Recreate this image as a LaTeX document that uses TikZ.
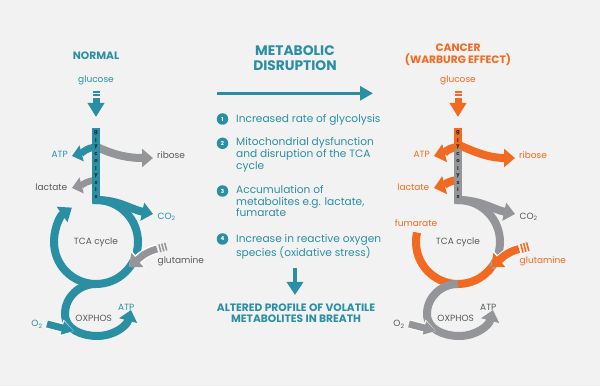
\documentclass[tikz,border=0pt]{standalone}
\usepackage{fontspec}
\setmainfont{Poppins}
\usetikzlibrary{arrows.meta,positioning}

\definecolor{tealc}{HTML}{2A8FA3}
\definecolor{orangec}{HTML}{F26A21}
\definecolor{grayc}{HTML}{939598}
\definecolor{textc}{HTML}{58595B}
\definecolor{backc}{HTML}{F2F2F2}

\newcommand\itemtext[1]{\parbox[t]{160pt}{\raggedright #1}}

\begin{document}
\begin{tikzpicture}[x=1pt, y=1pt]
\tikzset{
   lbl/.style={font=\fontsize{9}{11}\selectfont, text=textc, inner sep=0pt},
   ttl/.style={font=\bfseries\fontsize{10.7}{12}\selectfont, inner sep=0pt},
   bigttl/.style={font=\bfseries\fontsize{13.8}{15}\selectfont, text=tealc, inner sep=0pt},
   item/.style={font=\fontsize{10.6}{11.8}\selectfont, text=tealc, inner sep=0pt, anchor=base west},
   num/.style={circle, fill=tealc, minimum size=11.5pt, inner sep=0pt, text=white, font=\bfseries\fontsize{5.5}{6}\selectfont},
   glybar/.style={rectangle, minimum width=8pt, minimum height=75pt, inner sep=0pt},
   glyletter/.style={inner sep=0pt, text=black!85, font=\bfseries\fontsize{5.3}{5.3}\selectfont},
   band/.style={line width=8pt},
   fat/.style={line width=8pt, -{Triangle[width=18pt,length=11pt]}},
   thin/.style={line width=7pt, -{Triangle[width=16pt,length=10pt]}},
   halo/.style={white, line width=10pt, -{Triangle[width=21pt,length=12.5pt]}},
}
\fill[backc] (0,0) rectangle (600,386);
\useasboundingbox (0,0) rectangle (600,386);

% ---------------- normal cell ----------------
\node[ttl, text=tealc, anchor=base] (n-title) at (96, 326.7) {NORMAL};
\node[lbl, text=tealc, anchor=base] (n-glc) at (96, 303.3) {glucose};
\coordinate (n-glc-tail) at (96, 288);
\coordinate (n-glc-tip) at (96, 269);
\foreach \s in {295,292} \fill[tealc] (92.5, \s) rectangle (99.5, \s-1.6);
\draw[tealc, line width=7pt, -{Triangle[width=16pt,length=14pt]}] (n-glc-tail) -- (n-glc-tip);

\node[lbl, anchor=base] (n-tca) at (96, 141) {TCA cycle};
\coordinate (n-tca-c) at (96, 144);

% branches leaving glycolysis
\coordinate (n-atp-tip) at (72, 230);
\coordinate (n-rib-tip) at (153, 228);
\coordinate (n-lac-tip) at (72, 198);
\coordinate (n-co2-tip) at (153, 172);
\draw[thin, tealc] (96, 239) to[out=185, in=15] (n-atp-tip);
\draw[fat, grayc] (97, 239) to[out=-25, in=180] (n-rib-tip);
\draw[thin, grayc, line width=6.5pt] (96, 206) to[out=185, in=15] (n-lac-tip);
\draw[fat, tealc] (96, 186) to[out=0, in=168] (n-co2-tip);

% TCA cycle
\draw[band, tealc, -{Triangle[width=18pt,length=12pt]}]
     ([shift={(95:42)}]n-tca-c) arc[start angle=95, end angle=-235, radius=42];

% glycolysis
\node[glybar, fill=tealc] (n-bar) at (96, 220.5) {};
\foreach \ch [count=\i from 0] in {g,l,y,c,o,l,y,s,i,s}
   \node[glyletter] (n-gly-\i) at (96, 253-7.1*\i) {\ch};

% glutamine
\coordinate (n-gln-tail) at (157, 137);
\coordinate (n-gln-tip) at (129, 119);
\draw[halo] (n-gln-tail) to[out=195, in=40] (n-gln-tip);
\draw[fat, grayc, line width=7pt] (n-gln-tail) to[out=195, in=40] (n-gln-tip);
\foreach \d in {3,6,9}
   \draw[grayc, line width=1.5pt] ([shift={(15:\d)}]n-gln-tail) ++(105:4) -- ++(-75:8);

% OXPHOS
\coordinate (n-ox-tip) at (131, 76);
\draw[fat, tealc] ([shift={(-90:42)}]n-tca-c) to[out=180, in=90] (65, 72)
     to[out=-90, in=180] (97, 50) to[out=0, in=-105] (n-ox-tip);
\coordinate (n-o2-tail) at (47, 62);
\coordinate (n-o2-tip) at (74, 55);
\draw[white, line width=9pt, -{Triangle[width=16pt,length=13pt]}] (n-o2-tail) -- (n-o2-tip);
\draw[tealc, line width=7pt, -{Triangle[width=13pt,length=12pt]}] (n-o2-tail) -- (n-o2-tip);

\node[lbl, text=tealc, anchor=base east] (n-atp) at (68, 228.3) {ATP};
\node[lbl, anchor=base west] (n-rib) at (157, 227) {ribose};
\node[lbl, anchor=base east] (n-lac) at (67.5, 195.3) {lactate};
\node[lbl, text=tealc, anchor=base west] (n-co2) at (157.5, 166.7) {CO\textsubscript{2}};
\node[lbl, anchor=base west] (n-gln) at (157.5, 122) {glutamine};
\node[lbl, anchor=base] (n-ox) at (93.7, 64.3) {OXPHOS};
\node[lbl, text=tealc, anchor=base] (n-atp2) at (126.3, 76) {ATP};
\node[lbl, text=tealc, anchor=base east] (n-o2) at (42.7, 59.3) {O\textsubscript{2}};

% ---------------- metabolic disruption ----------------
\node[bigttl, anchor=base] (m-title) at (295, 330.3) {METABOLIC};
\node[bigttl, anchor=base] (m-title2) at (295, 315) {DISRUPTION};
\coordinate (m-from) at (217, 292.7);
\coordinate (m-to) at (373, 292.7);
\draw[tealc, line width=3pt, -{Triangle[width=14pt,length=13pt]}] (m-from) -- (m-to);

\node[num] (m-n1) at (222.5, 267) {1};
\node[item] (m-t1) at (236, 263.7) {\itemtext{Increased rate of glycolysis}};
\node[num] (m-n2) at (222.5, 242.7) {2};
\node[item] (m-t2) at (236, 240.3) {\itemtext{Mitochondrial dysfunction\\and disruption of the TCA\\cycle}};
\node[num] (m-n3) at (222.5, 195) {3};
\node[item] (m-t3) at (236, 192.7) {\itemtext{Accumulation of\\metabolites e.g. lactate,\\fumarate}};
\node[num] (m-n4) at (222.5, 147) {4};
\node[item] (m-t4) at (236, 143.7) {\itemtext{Increase in reactive oxygen\\species (oxidative stress)}};

\coordinate (m-down) at (295, 118);
\coordinate (m-down-tip) at (295, 91);
\draw[tealc, line width=4pt, -{Triangle[width=16pt,length=13pt]}] (m-down) -- (m-down-tip);
\node[ttl, text=tealc, anchor=base] (m-res) at (296, 75) {ALTERED PROFILE OF VOLATILE};
\node[ttl, text=tealc, anchor=base] (m-res2) at (296, 63.7) {METABOLITES IN BREATH};

% ---------------- cancer cell ----------------
\begin{scope}[xshift=362pt]
\node[ttl, text=orangec, anchor=base] (c-title) at (96, 334.3) {CANCER};
\node[ttl, text=orangec, anchor=base] (c-title2) at (96, 322) {(WARBURG EFFECT)};
\node[lbl, text=orangec, anchor=base] (c-glc) at (96, 303.3) {glucose};
\coordinate (c-glc-tail) at (96, 288);
\coordinate (c-glc-tip) at (96, 269);
\foreach \s in {295,292} \fill[orangec] (92.5, \s) rectangle (99.5, \s-1.6);
\draw[orangec, line width=7pt, -{Triangle[width=16pt,length=14pt]}] (c-glc-tail) -- (c-glc-tip);

\node[lbl, anchor=base] (c-tca) at (96, 141) {TCA cycle};
\coordinate (c-tca-c) at (96, 144);

% branches leaving glycolysis
\coordinate (c-atp-tip) at (72, 230);
\coordinate (c-rib-tip) at (153, 228);
\coordinate (c-lac-tip) at (72, 198);
\coordinate (c-co2-tip) at (153, 172);
\draw[fat, orangec] (96, 239) to[out=185, in=15] (c-atp-tip);
\draw[fat, orangec] (97, 241) to[out=-25, in=180] (c-rib-tip);
\draw[fat, orangec] (96, 206) to[out=185, in=15] (c-lac-tip);
\draw[fat, grayc] (96, 186) to[out=0, in=168] (c-co2-tip);

% TCA cycle
\draw[band, grayc] ([shift={(95:42)}]c-tca-c) arc[start angle=95, end angle=-37, radius=42];
\draw[band, orangec] ([shift={(-37:42)}]c-tca-c) arc[start angle=-37, end angle=-193, radius=42];

% glycolysis
\node[glybar, fill=grayc] (c-bar) at (96, 220.5) {};
\fill[orangec] (c-bar.north west) rectangle ([yshift=54pt]c-bar.south east);
\foreach \ch [count=\i from 0] in {g,l,y,c,o,l,y,s,i,s}
   \node[glyletter] (c-gly-\i) at (96, 253-7.1*\i) {\ch};

% glutamine
\coordinate (c-gln-tail) at (157, 137);
\coordinate (c-gln-tip) at (129, 119);
\draw[halo] (c-gln-tail) to[out=195, in=40] (c-gln-tip);
\draw[fat, orangec] (c-gln-tail) to[out=195, in=40] (c-gln-tip);
\foreach \d in {3,6,9}
   \draw[orangec, line width=1.5pt] ([shift={(15:\d)}]c-gln-tail) ++(105:4.5) -- ++(-75:9);

% OXPHOS
\coordinate (c-ox-tip) at (131, 76);
\draw[fat, grayc] ([shift={(-90:42)}]c-tca-c) to[out=180, in=90] (65, 72)
     to[out=-90, in=180] (97, 50) to[out=0, in=-105] (c-ox-tip);
\coordinate (c-o2-tail) at (47, 62);
\coordinate (c-o2-tip) at (74, 55);
\draw[white, line width=9pt, -{Triangle[width=16pt,length=13pt]}] (c-o2-tail) -- (c-o2-tip);
\draw[grayc, line width=7pt, -{Triangle[width=13pt,length=12pt]}] (c-o2-tail) -- (c-o2-tip);

\node[lbl, text=orangec, anchor=base east] (c-atp) at (68, 228.3) {ATP};
\node[lbl, text=orangec, anchor=base west] (c-rib) at (157, 227) {ribose};
\node[lbl, text=orangec, anchor=base east] (c-lac) at (67.5, 195.3) {lactate};
\node[lbl, text=orangec, anchor=base] (c-fum) at (54, 159.5) {fumarate};
\node[lbl, anchor=base west] (c-co2) at (157.5, 166.7) {CO\textsubscript{2}};
\node[lbl, text=orangec, anchor=base west] (c-gln) at (157.5, 122) {glutamine};
\node[lbl, anchor=base] (c-ox) at (93.7, 64.3) {OXPHOS};
\node[lbl, anchor=base] (c-atp2) at (126.3, 76) {ATP};
\node[lbl, anchor=base east] (c-o2) at (42.7, 59.3) {O\textsubscript{2}};
\end{scope}
\end{tikzpicture}
\end{document}
